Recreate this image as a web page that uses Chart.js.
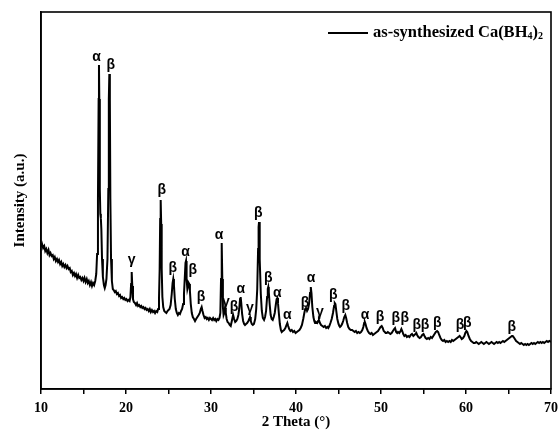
<!DOCTYPE html>
<html lang="en">
<head>
  <meta charset="UTF-8" />
  <title>XRD pattern of as-synthesized Ca(BH4)2</title>
  <script src="https://cdn.jsdelivr.net/npm/chart.js"></script>
  <style>
    body { margin: 0; background: #fff; }
    canvas { display: block; }
  </style>
</head>
<body>
  <canvas id="xrdChart" width="559" height="432"></canvas>

  <script>
    // measured pattern: [2 theta (deg), intensity (a.u.)]
    const pattern = [
      [10.00,142],[10.12,145],[10.25,141],[10.38,143],[10.5,138],[10.62,140],[10.75,136],[10.88,139],[11.0,134],[11.12,136],
      [11.25,133],[11.38,134],[11.5,130],[11.62,132],[11.75,128],[11.88,130],[12.0,127],[12.12,129],[12.25,125],[12.38,127],
      [12.5,123],[12.62,125],[12.75,122],[12.88,124],[13.0,121],[13.12,123],[13.25,120],[13.38,121],[13.5,117],[13.62,118],
      [13.75,114],[13.88,116],[14.0,113],[14.12,115],[14.25,111],[14.38,114],[14.5,111],[14.62,112],[14.75,109],[14.88,111],
      [15.0,108],[15.12,111],[15.25,107],[15.38,110],[15.5,106],[15.62,108],[15.75,104],[15.88,107],[16.0,103],[16.12,106],
      [16.25,104],[16.38,108],
      [16.5,115],[16.6,135],[16.7,190],[16.78,290],[16.82,324],[16.86,290],[16.92,200],[16.98,175],[17.04,171],[17.1,160],
      [17.18,130],[17.28,112],[17.4,104],[17.5,101],[17.6,104],[17.7,110],[17.82,130],[17.92,200],[17.98,290],[18.04,315],
      [18.1,290],[18.16,190],[18.24,130],[18.34,108],[18.45,100],
      [18.55,99],[18.68,97],[18.8,98],[18.92,95],[19.05,96],[19.18,93],[19.3,94],[19.42,91],[19.55,92],[19.68,90],
      [19.8,91],[19.92,89],[20.05,90],[20.18,88],[20.3,89],[20.42,88],[20.52,92],[20.6,105],[20.67,117],[20.74,103],
      [20.82,90],[20.92,87],[21.05,86],[21.18,84],[21.3,86],[21.42,83],[21.55,84],[21.68,82],[21.8,83],[21.92,81],
      [22.05,82],[22.18,80],[22.3,81],[22.42,79],[22.55,80],[22.68,78],[22.8,80],[22.92,77],[23.05,79],[23.18,77],
      [23.3,78],[23.42,76],[23.55,78],[23.68,77],[23.78,80],[23.88,90],[23.96,120],[24.02,170],[24.08,189],[24.14,165],
      [24.2,120],[24.28,92],[24.38,82],[24.5,78],[24.62,77],[24.75,76],[24.88,78],[25.0,79],[25.12,80],[25.25,84],
      [25.38,95],[25.48,106],[25.56,110],[25.64,104],[25.74,90],[25.86,80],[25.98,76],[26.1,74],[26.22,76],[26.35,75],
      [26.48,78],[26.6,80],[26.72,85],[26.82,95],[26.92,112],[27.0,126],[27.06,128],[27.13,110],[27.22,100],[27.3,103],
      [27.38,106],[27.45,105],[27.52,98],[27.62,85],[27.74,76],[27.86,72],[28.0,70],[28.12,68],[28.25,70],[28.4,72],
      [28.55,74],[28.68,76],[28.8,80],[28.9,82],[29.0,78],[29.12,74],[29.25,71],[29.38,72],[29.5,70],[29.62,71],
      [29.75,69],[29.88,71],[30.0,70],[30.12,69],[30.25,71],[30.38,69],[30.5,70],[30.62,68],[30.75,70],[30.88,69],
      [31.0,71],[31.1,76],[31.18,110],[31.26,146],[31.33,110],[31.4,82],[31.48,74],[31.56,76],[31.65,81],[31.74,76],
      [31.84,70],[31.95,67],[32.08,66],[32.2,64],[32.32,63],[32.45,68],[32.6,74],[32.72,70],[32.85,67],[32.98,68],
      [33.1,70],[33.22,74],[33.32,80],[33.42,90],[33.49,92],[33.56,86],[33.66,75],[33.78,68],[33.9,65],[34.0,64],
      [34.12,65],[34.25,66],[34.4,68],[34.5,70],[34.59,72],[34.68,68],[34.8,65],[34.92,64],[35.05,65],[35.2,70],
      [35.32,80],[35.44,100],[35.54,140],[35.6,162],[35.65,167],[35.7,160],[35.76,130],[35.86,95],[35.98,78],[36.1,71],
      [36.24,69],[36.36,72],[36.48,78],[36.6,92],[36.68,100],[36.74,102],[36.8,97],[36.9,85],[37.02,74],[37.14,70],
      [37.26,69],[37.38,72],[37.5,76],[37.62,84],[37.72,90],[37.8,91],[37.88,86],[37.98,76],[38.1,65],[38.22,59],
      [38.32,57],[38.45,58],[38.6,59],[38.75,61],[38.88,64],[38.98,66],[39.08,63],[39.2,60],[39.35,58],[39.5,59],
      [39.65,57],[39.8,58],[39.95,56],[40.1,57],[40.25,58],[40.4,59],[40.55,61],[40.7,64],[40.85,70],[40.98,76],
      [41.08,80],[41.18,81],[41.3,78],[41.42,80],[41.55,86],[41.65,96],[41.72,101],[41.76,102],[41.82,96],[41.92,82],
      [42.05,72],[42.15,68],[42.24,66],[42.35,67],[42.5,66],[42.6,68],[42.7,69],[42.82,66],[42.95,64],[43.1,63],
      [43.25,62],[43.4,63],[43.55,61],[43.7,62],[43.8,61],[43.92,63],[44.05,66],[44.2,70],[44.35,76],[44.48,83],
      [44.56,86],[44.64,85],[44.74,78],[44.86,70],[45.0,65],[45.1,63],[45.18,62],[45.3,63],[45.42,65],[45.55,68],
      [45.68,72],[45.8,74],[45.9,71],[46.02,66],[46.15,62],[46.3,60],[46.45,59],[46.6,59],[46.75,58],[46.9,57],
      [47.05,58],[47.2,56],[47.35,57],[47.5,56],[47.65,57],[47.8,59],[47.92,62],[48.02,66],[48.1,67],[48.18,65],
      [48.3,61],[48.45,58],[48.6,56],[48.75,55],[48.9,56],[49.05,54],[49.2,55],[49.35,56],[49.5,57],[49.65,58],
      [49.8,60],[49.95,62],[50.08,63],[50.2,61],[50.32,58],[50.45,57],[50.55,56],[50.67,56],[50.8,57],[50.95,56],
      [51.1,55],[51.25,56],[51.4,58],[51.55,60],[51.65,61],[51.78,57],[51.9,56],[52.0,57],[52.15,56],[52.3,58],
      [52.4,60],[52.5,58],[52.62,55],[52.75,53],[52.9,54],[53.05,52],[53.2,53],[53.35,52],[53.5,54],[53.65,55],
      [53.8,53],[53.92,54],[54.05,55],[54.15,56],[54.25,54],[54.4,52],[54.55,51],[54.7,52],[54.85,54],[55.0,55],
      [55.12,53],[55.25,51],[55.4,50],[55.55,51],[55.7,50],[55.85,52],[56.0,51],[56.15,53],[56.3,55],[56.45,57],
      [56.6,58],[56.72,57],[56.85,54],[57.0,51],[57.15,49],[57.3,48],[57.45,49],[57.6,47],[57.75,48],[57.9,47],
      [58.05,48],[58.2,47],[58.35,49],[58.5,48],[58.65,49],[58.8,50],[58.95,51],[59.1,52],[59.25,53],[59.35,52],
      [59.5,50],[59.65,51],[59.8,53],[59.92,56],[60.05,58],[60.15,57],[60.3,53],[60.45,50],[60.6,48],[60.75,47],
      [60.9,46],[61.05,46],[61.2,47],[61.35,46],[61.5,45],[61.65,46],[61.8,47],[61.95,46],[62.1,45],[62.25,46],
      [62.4,47],[62.55,46],[62.7,45],[62.85,46],[63.0,47],[63.15,46],[63.3,45],[63.45,46],[63.6,47],[63.75,46],
      [63.9,47],[64.05,46],[64.2,47],[64.35,48],[64.5,47],[64.65,48],[64.8,49],[64.95,50],[65.1,51],[65.25,52],
      [65.4,53],[65.5,53],[65.6,52],[65.75,50],[65.9,48],[66.05,47],[66.2,46],[66.35,45],[66.5,46],[66.65,45],
      [66.8,44],[66.95,45],[67.1,44],[67.25,45],[67.4,44],[67.55,45],[67.7,46],[67.85,45],[68.0,46],[68.15,45],
      [68.3,46],[68.45,47],[68.6,46],[68.75,47],[68.9,46],[69.05,47],[69.2,46],[69.35,47],[69.5,48],[69.65,47],
      [69.8,48],[70.0,47]
    ];

    // phase markers (where each symbol sits, in data units)
    const markTheta = [16.55, 18.2, 20.67, 24.2, 25.5, 27.02, 27.85, 28.82, 30.94, 31.76, 32.7, 33.5, 34.59,
                       35.56, 36.74, 37.8, 38.98, 41.06, 41.76, 42.82, 44.39, 45.85, 48.12, 49.88, 51.73, 52.8,
                       54.2, 55.18, 56.62, 59.3, 60.15, 65.38];
    const markHeight = [332, 324, 129, 199, 121, 137, 119, 92, 154, 87, 82, 100, 81,
                        176, 111, 96, 74, 86, 111, 77, 94, 83, 74, 72, 71, 71,
                        64, 64, 66, 64, 66, 62];
    const markPhase = ['α', 'β', 'γ', 'β', 'β', 'α', 'β', 'β', 'α', 'γ', 'β', 'α', 'γ',
                       'β', 'β', 'α', 'α', 'β', 'α', 'γ', 'β', 'β', 'α', 'β', 'β', 'β',
                       'β', 'β', 'β', 'β', 'β', 'β'];

    const xTickValues = [10, 20, 30, 40, 50, 60, 70];
    const seriesName = 'as-synthesized Ca(BH';

    const serif = '"Liberation Serif", "Times New Roman", serif';

    // box around the plot area
    const frame = {
      id: 'frame',
      afterDatasetsDraw(chart) {
        const { ctx, chartArea: a } = chart;
        ctx.save();
        ctx.strokeStyle = '#000';
        ctx.lineWidth = 1.6;
        ctx.strokeRect(a.left, a.top, a.right - a.left, a.bottom - a.top);
        ctx.restore();
      }
    };

    // alpha / beta / gamma symbols over the peaks
    const phaseMarks = {
      id: 'phaseMarks',
      afterDatasetsDraw(chart) {
        const { ctx, scales } = chart;
        ctx.save();
        ctx.fillStyle = '#000';
        ctx.font = 'bold 14px "Liberation Sans", Arial, sans-serif';
        ctx.textAlign = 'center';
        ctx.textBaseline = 'middle';
        markTheta.forEach((t, i) => {
          ctx.fillText(markPhase[i], scales.x.getPixelForValue(t), scales.y.getPixelForValue(markHeight[i]));
        });
        ctx.restore();
      }
    };

    // legend with subscripts
    const legendBox = {
      id: 'legendBox',
      afterDraw(chart) {
        const { ctx, chartArea: a } = chart;
        const y = a.top + 21;
        let x = a.right - 178;
        ctx.save();
        ctx.strokeStyle = '#000';
        ctx.lineWidth = 2;
        ctx.beginPath();
        ctx.moveTo(x - 45, y);
        ctx.lineTo(x - 5, y);
        ctx.stroke();
        ctx.fillStyle = '#000';
        ctx.textBaseline = 'middle';
        ctx.textAlign = 'left';
        ctx.font = 'bold 16.5px ' + serif;
        ctx.fillText(seriesName, x, y);
        x += ctx.measureText(seriesName).width;
        ctx.font = 'bold 10px ' + serif;
        ctx.fillText('4', x, y + 3);
        x += ctx.measureText('4').width;
        ctx.font = 'bold 16.5px ' + serif;
        ctx.fillText(')', x, y);
        x += ctx.measureText(')').width;
        ctx.font = 'bold 10px ' + serif;
        ctx.fillText('2', x, y + 3);
        ctx.restore();
      }
    };

    new Chart(document.getElementById('xrdChart'), {
      type: 'line',
      data: {
        datasets: [{
          label: 'as-synthesized Ca(BH4)2',
          data: pattern.map(([x, y]) => ({ x, y })),
          borderColor: '#000',
          borderWidth: 2,
          pointRadius: 0,
          tension: 0,
          fill: false
        }]
      },
      options: {
        responsive: false,
        animation: false,
        parsing: false,
        layout: { padding: { top: 12, right: 8, left: 0, bottom: 0 } },
        scales: {
          x: {
            type: 'linear',
            min: 10,
            max: 70,
            afterFit: s => {
              s.height = 43;
              s.paddingLeft = 0;
              s.paddingRight = 0;
            },
            afterBuildTicks: s => {
              s.ticks = [10, 15, 20, 25, 30, 35, 40, 45, 50, 55, 60, 65, 70].map(v => ({ value: v }));
            },
            ticks: {
              autoSkip: false,
              maxRotation: 0,
              padding: 6,
              color: '#000',
              font: { family: serif, size: 14, weight: 'bold' },
              callback: v => (xTickValues.includes(v) ? v : '')
            },
            grid: {
              drawOnChartArea: false,
              drawTicks: true,
              tickLength: 5,
              color: '#000',
              lineWidth: 1.5
            },
            border: { display: true, color: '#000', width: 1.6 },
            title: {
              display: true,
              text: '2 Theta (°)',
              color: '#000',
              font: { family: serif, size: 15, weight: 'bold' },
              padding: { top: 4, bottom: 1 }
            }
          },
          y: {
            min: 0,
            max: 377,
            afterFit: s => { s.width = 41; },
            ticks: { display: false },
            grid: { display: false },
            border: { display: true, color: '#000', width: 1.6 },
            title: {
              display: true,
              text: 'Intensity (a.u.)',
              color: '#000',
              font: { family: serif, size: 15, weight: 'bold' },
              padding: { top: 11, bottom: 0 }
            }
          }
        },
        plugins: {
          legend: { display: false },
          tooltip: { enabled: false }
        }
      },
      plugins: [frame, phaseMarks, legendBox]
    });
  </script>
</body>
</html>
